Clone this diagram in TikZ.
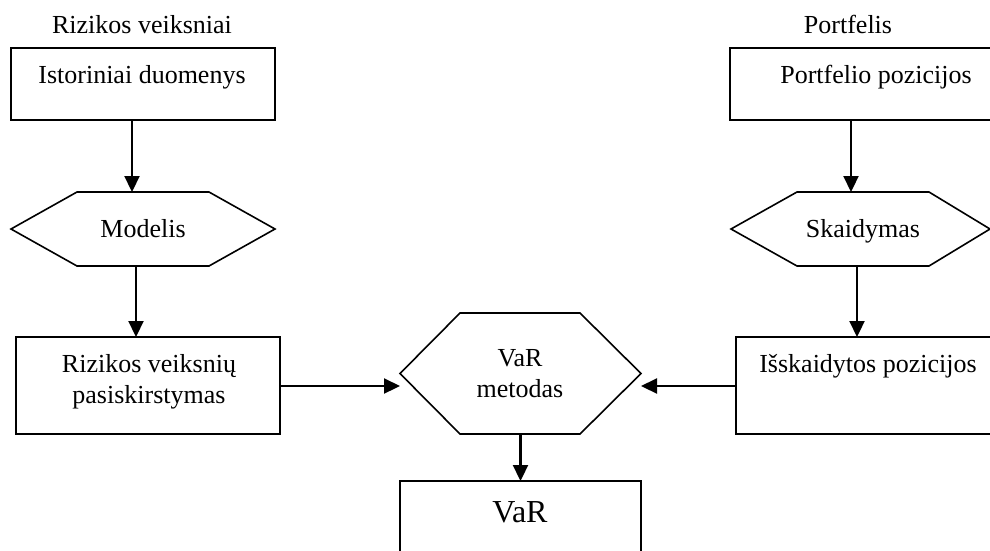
\documentclass[tikz,border=0pt]{standalone}
\usepackage{fontspec}
\setmainfont{Liberation Serif}
\usetikzlibrary{arrows.meta,calc}
\begin{document}
\begin{tikzpicture}[x=1pt,y=-1pt,
  every node/.style={inner sep=0pt, outer sep=0pt},
  shapebox/.style={draw, line width=1.6pt, minimum width=#1},
  frame/.style={minimum width=#1},
  txt/.style={font=\fontsize{26}{31}\selectfont, anchor=base, align=center},
  bigtxt/.style={font=\fontsize{32}{38}\selectfont, anchor=base},
  hexline/.style={draw, line width=1.6pt, line join=miter},
  arr/.style={line width=2.2pt, -{Triangle[length=16pt,width=15pt]}}]
\useasboundingbox (0,0) rectangle (990,550);
\clip (0,0) rectangle (990,550);
% boxes
\node[shapebox=264pt, minimum height=72pt] (hist) at (143,84) {};
\node[shapebox=264pt, minimum height=97pt] (dist) at (148,385.5) {};
\node[shapebox=241pt, minimum height=119pt] (varbox) at (520.5,540.5) {};
\node[shapebox=280pt, minimum height=72pt] (port) at (870,84) {};
\node[shapebox=274pt, minimum height=97pt] (isk) at (873,385.5) {};
% hexagon frames
\node[frame=264pt, minimum height=74pt] (model) at (143,229) {};
\node[frame=259pt, minimum height=74pt] (skaid) at (860.5,229) {};
\node[frame=241pt, minimum height=121pt] (varhex) at (520.5,373.5) {};
\draw[hexline] (model.west) -- ([xshift=66pt]model.north west) -- ([xshift=-66pt]model.north east) -- (model.east) -- ([xshift=-66pt]model.south east) -- ([xshift=66pt]model.south west) -- cycle;
\draw[hexline] (skaid.west) -- ([xshift=66pt]skaid.north west) -- ([xshift=-61pt]skaid.north east) -- (skaid.east) -- ([xshift=-61pt]skaid.south east) -- ([xshift=66pt]skaid.south west) -- cycle;
\draw[hexline] (varhex.west) -- ([xshift=60pt]varhex.north west) -- ([xshift=-61pt]varhex.north east) -- (varhex.east) -- ([xshift=-61pt]varhex.south east) -- ([xshift=60pt]varhex.south west) -- cycle;
% texts
\node[txt] (lblrisk) at (142,33) {Rizikos veiksniai};
\node[txt] (thist) at (142,83) {Istoriniai duomenys};
\node[txt] (tmodel) at (143,237) {Modelis};
\node[txt] (tdist) at (149,403) {Rizikos veiksnių\\pasiskirstymas};
\node[txt] (tvarhex) at (520,397) {VaR\\metodas};
\node[bigtxt] (tvar) at (520,522) {VaR};
\node[txt] (lblport) at (848,33) {Portfelis};
\node[txt] (tport) at (876,83) {Portfelio pozicijos};
\node[txt] (tskaid) at (863,237) {Skaidymas};
\node[txt] (tisk) at (868,372) {Išskaidytos pozicijos};
% arrow columns
\coordinate (c1) at (132,0);
\coordinate (c2) at (136,0);
\coordinate (c3) at (851,0);
\coordinate (c4) at (857,0);
\coordinate (r1) at (0,386);
\draw[arr] (hist.south -| c1) -- (model.north -| c1);
\draw[arr] (model.south -| c2) -- (dist.north -| c2);
\draw[arr] (port.south -| c3) -- (skaid.north -| c3);
\draw[arr] (skaid.south -| c4) -- (isk.north -| c4);
\draw[arr] (dist.east |- r1) -- (varhex.west |- r1);
\draw[arr] (isk.west |- r1) -- (varhex.east |- r1);
\draw[arr] (varhex.south) -- (varbox.north);
\end{tikzpicture}
\end{document}
